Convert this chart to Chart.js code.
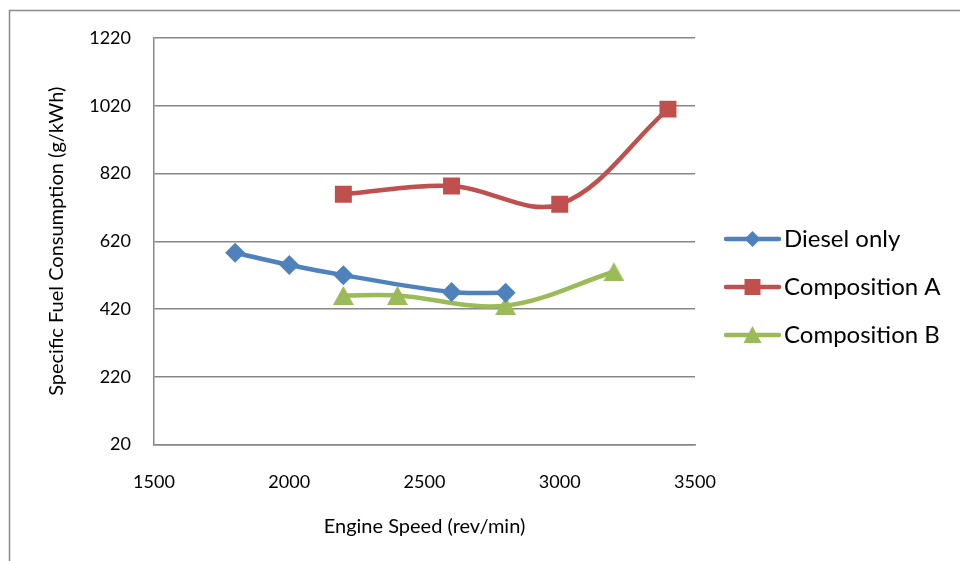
<!DOCTYPE html>
<html>
<head>
<meta charset="utf-8">
<script src="https://cdn.jsdelivr.net/npm/chart.js@4/dist/chart.umd.min.js"></script>
<style>
  html, body { margin: 0; padding: 0; background: #ffffff; }
  #wrap { width: 960px; height: 561px; }
</style>
</head>
<body>
<div id="wrap"><canvas id="chart" width="960" height="561"></canvas></div>
<script>
// Engine speed (rev/min) for each fuel
const dieselSpeed = [1800, 2000, 2200, 2600, 2800];
const compASpeed = [2200, 2600, 3000, 3400];
const compBSpeed = [2200, 2400, 2800, 3200];

// Specific fuel consumption (g/kWh)
const dieselSfc = [586, 550, 520, 470, 468];
const compASfc = [759, 783, 729, 1010];
const compBSfc = [460, 460, 430, 530];

const seriesNames = ['Diesel only', 'Composition A', 'Composition B'];
const yTicks = [20, 220, 420, 620, 820, 1020, 1220];
const xTicks = [1500, 2000, 2500, 3000, 3500];

const FONT = 'Lato, "Open Sans", sans-serif';
const GRID = '#878787';

function pairs(xs, ys) {
  return xs.map((x, i) => ({ x: x, y: ys[i] }));
}

// Triangle marker whose bounding box is centred on the point
function triangleSprite(color, w, h) {
  const c = document.createElement('canvas');
  c.width = w; c.height = h;
  const g = c.getContext('2d');
  g.fillStyle = color;
  g.beginPath();
  g.moveTo(w / 2, 0);
  g.lineTo(w, h);
  g.lineTo(0, h);
  g.closePath();
  g.fill();
  return c;
}

// Thin frame along the top and left edge of the figure
const framePlugin = {
  id: 'frame',
  beforeDraw(chart) {
    const ctx = chart.ctx;
    ctx.save();
    ctx.fillStyle = '#ffffff';
    ctx.fillRect(0, 0, chart.width, chart.height);
    ctx.strokeStyle = '#8a8a8a';
    ctx.lineWidth = 1.5;
    ctx.beginPath();
    ctx.moveTo(9.5, chart.height + 2);
    ctx.lineTo(9.5, 10.5);
    ctx.lineTo(chart.width + 2, 10.5);
    ctx.stroke();
    ctx.restore();
  }
};

// Legend on the right: a line sample with the series marker and its name
function drawMarker(ctx, kind, x, y) {
  ctx.beginPath();
  if (kind === 'diamond') {
    const r = 8;
    ctx.moveTo(x - r, y); ctx.lineTo(x, y - r); ctx.lineTo(x + r, y); ctx.lineTo(x, y + r);
  } else if (kind === 'square') {
    const s = 8;
    ctx.rect(x - s, y - s, 2 * s, 2 * s);
  } else {
    ctx.moveTo(x, y - 9);
    ctx.lineTo(x + 9, y + 8);
    ctx.lineTo(x - 9, y + 8);
  }
  ctx.closePath();
  ctx.fill();
}

const markerKinds = ['diamond', 'square', 'triangle'];

const sideLegendPlugin = {
  id: 'sideLegend',
  afterDraw(chart) {
    const ctx = chart.ctx;
    ctx.save();
    chart.data.datasets.forEach((ds, i) => {
      const y = 239 + i * 48;
      ctx.strokeStyle = ds.borderColor;
      ctx.lineWidth = 4.5;
      ctx.lineCap = 'round';
      ctx.beginPath();
      ctx.moveTo(726, y);
      ctx.lineTo(779, y);
      ctx.stroke();
      ctx.fillStyle = ds.borderColor;
      drawMarker(ctx, markerKinds[i], 752.5, y);
      ctx.fillStyle = '#000000';
      ctx.font = '24px ' + FONT;
      ctx.textBaseline = 'middle';
      ctx.textAlign = 'left';
      ctx.fillText(ds.label, 784, y);
    });
    ctx.restore();
  }
};

const colors = ['#4f81bd', '#c0504d', '#9bbb59'];
const styles = ['rectRot', 'rect', triangleSprite('#9bbb59', 21, 19)];
const radii = [10, 12, 10];
const seriesData = [pairs(dieselSpeed, dieselSfc), pairs(compASpeed, compASfc), pairs(compBSpeed, compBSfc)];

const datasets = seriesData.map((d, i) => ({
  label: seriesNames[i],
  data: d,
  borderColor: colors[i],
  backgroundColor: colors[i],
  pointBackgroundColor: colors[i],
  pointBorderColor: colors[i],
  pointBorderWidth: 0,
  borderWidth: 4.5,
  pointStyle: styles[i],
  pointRadius: radii[i],
  pointHoverRadius: radii[i],
  tension: 0.35,
  fill: false
}));

new Chart(document.getElementById('chart'), {
  type: 'line',
  data: { datasets: datasets },
  options: {
    responsive: false,
    animation: false,
    devicePixelRatio: 1,
    layout: { padding: { left: 0, top: 38, right: 265, bottom: 0 } },
    plugins: {
      legend: { display: false },
      tooltip: { enabled: false }
    },
    scales: {
      x: {
        type: 'linear',
        min: 1500,
        max: 3500,
        afterBuildTicks(scale) { scale.ticks = xTicks.map(v => ({ value: v })); },
        afterFit(scale) { scale.height = 116.5; },
        grid: { display: false, drawTicks: false },
        border: { display: true, color: GRID, width: 1.5 },
        ticks: { color: '#000000', font: { family: FONT, size: 18 }, padding: 27, maxRotation: 0, callback: v => String(v) },
        title: { display: true, text: 'Engine Speed (rev/min)', color: '#000000', font: { family: FONT, size: 20 }, padding: { top: 0, bottom: 22 } }
      },
      y: {
        type: 'linear',
        min: 20,
        max: 1220,
        afterBuildTicks(scale) { scale.ticks = yTicks.map(v => ({ value: v })); },
        afterFit(scale) { scale.width = 154; },
        grid: { color: GRID, lineWidth: 1.5, drawTicks: false },
        border: { display: true, color: GRID, width: 1.5 },
        ticks: { color: '#000000', font: { family: FONT, size: 18 }, padding: 23, callback: v => String(v) },
        title: { display: true, text: 'Specific Fuel Consumption (g/kWh)', color: '#000000', font: { family: FONT, size: 20 }, padding: { top: 45, bottom: 0 } }
      }
    }
  },
  plugins: [framePlugin, sideLegendPlugin]
});
</script>
</body>
</html>
